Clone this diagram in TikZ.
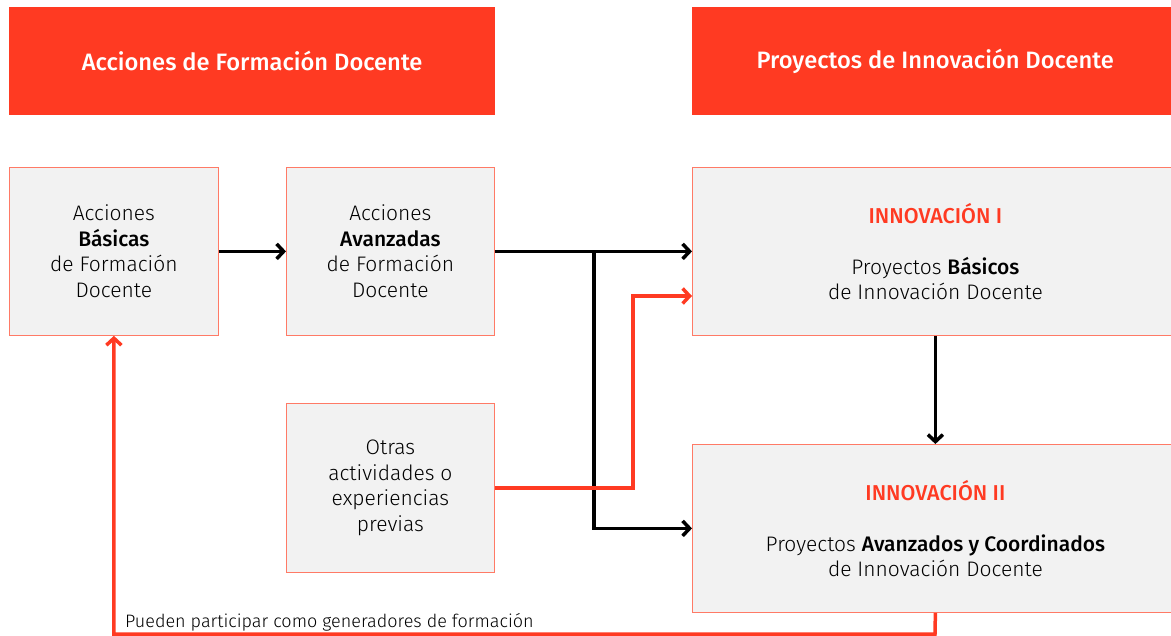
\documentclass[tikz,border=0pt]{standalone}
\usepackage{fontspec}
\setmainfont{Fira Sans Light}[BoldFont={Fira Sans Medium}]
\usetikzlibrary{arrows.meta}
\definecolor{hred}{HTML}{FF3A22}
\definecolor{bred}{HTML}{FF7A66}
\definecolor{boxgray}{HTML}{F2F2F2}
\begin{document}
\begin{tikzpicture}[x=1pt,y=-1pt,
  header/.style={fill=hred,draw=none,text=white,anchor=north west,minimum width=486pt,minimum height=108pt,inner sep=0pt,font=\fontsize{23.7}{28}\selectfont\bfseries},
  gbox/.style={fill=boxgray,draw=bred,line width=0.8pt,anchor=north west,minimum height=168pt,inner sep=0pt,align=center,font=\fontsize{21}{25.5}\selectfont},
  blk/.style={line width=3.5pt,black,-{Straight Barb[length=7pt,width=15pt,line width=3.5pt]}},
  redl/.style={line width=3.5pt,hred,-{Straight Barb[length=7pt,width=15pt,line width=3.5pt]}},
  lbl/.style={font=\fontsize{18}{20}\selectfont,anchor=base west,inner sep=0pt}
]
\useasboundingbox (0,0) rectangle (1171,636);
\node[header] (h1) at (9,7) {Acciones de Formación Docente};
\node[header] (h2) at (692,7) {Proyectos de Innovación Docente};
\node[gbox,minimum width=209pt] (a) at (9,167) {Acciones\\\textbf{Básicas}\\de Formación\\Docente};
\node[gbox,minimum width=208pt] (b) at (286,167) {Acciones\\\textbf{Avanzadas}\\de Formación\\Docente};
\node[gbox,minimum width=208pt] (c) at (286,403.5) {Otras\\actividades o\\experiencias\\previas};
\node[gbox,minimum width=486pt] (i) at (692,167) {{\fontsize{21.5}{25.5}\selectfont\bfseries\color{hred}INNOVACIÓN I}\\[25.5pt]Proyectos \textbf{Básicos}\\de Innovación Docente};
\node[gbox,minimum width=486pt] (ii) at (692,444) {{\fontsize{21.5}{25.5}\selectfont\bfseries\color{hred}INNOVACIÓN II}\\[25.5pt]Proyectos \textbf{Avanzados y Coordinados}\\de Innovación Docente};
\coordinate (j1) at (594,251);
\coordinate (r1) at (633,296);
\coordinate (l1) at (935,634);
\draw[blk] (a.east) -- (b.west);
\draw[blk] (b.east) -- (i.west);
\draw[blk] (j1) |- (ii.west);
\draw[redl] (c.east) -| (r1) -- (i.west |- r1);
\draw[blk] (i.south) -- (ii.north);
\draw[redl] (ii.south) -- (l1) -| (a.south);
\node[lbl] (t) at (125,627) {Pueden participar como generadores de formación};
\end{tikzpicture}
\end{document}
